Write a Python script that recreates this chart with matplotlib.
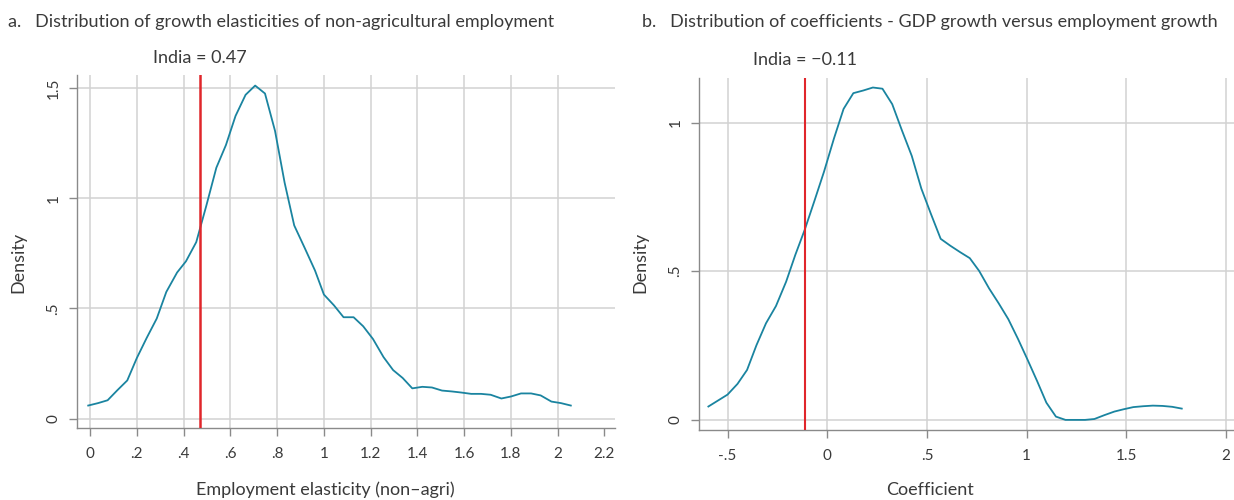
import matplotlib.pyplot as plt

plt.rcParams['font.family'] = ['Lato', 'DejaVu Sans']

# panel a: growth elasticities of non-agricultural employment
elast_x = [-0.008, 0.034, 0.075, 0.117, 0.159, 0.200, 0.242, 0.285, 0.326, 0.372,
           0.410, 0.454, 0.497, 0.540, 0.581, 0.622, 0.665, 0.706, 0.748, 0.791,
           0.832, 0.873, 0.919, 0.962, 1.000, 1.043, 1.084, 1.127, 1.168, 1.210,
           1.255, 1.296, 1.337, 1.378, 1.421, 1.462, 1.505, 1.547, 1.588, 1.630,
           1.672, 1.713, 1.759, 1.800, 1.843, 1.886, 1.927, 1.973, 2.014, 2.056]
elast_y = [0.059, 0.070, 0.083, 0.129, 0.173, 0.275, 0.366, 0.454, 0.575, 0.663,
           0.714, 0.801, 0.966, 1.139, 1.242, 1.374, 1.470, 1.512, 1.476, 1.306,
           1.071, 0.877, 0.772, 0.672, 0.563, 0.514, 0.460, 0.460, 0.419, 0.361,
           0.279, 0.220, 0.184, 0.137, 0.144, 0.141, 0.127, 0.123, 0.118, 0.112,
           0.112, 0.108, 0.091, 0.100, 0.114, 0.114, 0.105, 0.077, 0.070, 0.059]
india_a = 0.47

# panel b: GDP growth vs employment growth coefficients
coef_x = [-0.596, -0.548, -0.500, -0.450, -0.402, -0.355, -0.307, -0.257, -0.206, -0.160,
          -0.112, -0.064, -0.016, 0.034, 0.082, 0.131, 0.181, 0.229, 0.277, 0.326,
          0.374, 0.424, 0.472, 0.520, 0.569, 0.617, 0.667, 0.715, 0.762, 0.812,
          0.860, 0.908, 0.957, 1.005, 1.053, 1.099, 1.147, 1.195, 1.245, 1.293,
          1.340, 1.390, 1.440, 1.488, 1.535, 1.585, 1.633, 1.681, 1.730, 1.778]
coef_y = [0.045, 0.065, 0.085, 0.121, 0.168, 0.251, 0.325, 0.383, 0.465, 0.555,
          0.641, 0.737, 0.835, 0.947, 1.046, 1.099, 1.108, 1.118, 1.114, 1.062,
          0.975, 0.888, 0.778, 0.693, 0.609, 0.586, 0.564, 0.544, 0.501, 0.442,
          0.392, 0.339, 0.272, 0.202, 0.130, 0.058, 0.011, 0.000, 0.000, 0.000,
          0.003, 0.016, 0.028, 0.036, 0.043, 0.046, 0.048, 0.047, 0.044, 0.038]
india_b = -0.11

xticks_a = [0, 0.2, 0.4, 0.6, 0.8, 1, 1.2, 1.4, 1.6, 1.8, 2, 2.2]
xlabels_a = ['0', '.2', '.4', '.6', '.8', '1', '1.2', '1.4', '1.6', '1.8', '2', '2.2']
yticks_a = [0, 0.5, 1, 1.5]
ylabels_a = ['0', '.5', '1', '1.5']
xticks_b = [-0.5, 0, 0.5, 1, 1.5, 2]
xlabels_b = ['-.5', '0', '.5', '1', '1.5', '2']
yticks_b = [0, 0.5, 1]
ylabels_b = ['0', '.5', '1']

TEAL = '#1a84a0'
RED = '#e0262b'
TXT = '#3a3a3a'
GRID = '#d2d2d2'
SPINE = '#8a8a8a'

fig = plt.figure(figsize=(12.34, 5), dpi=100)
ax1 = fig.add_axes([77 / 1234, 1 - 428 / 500, (615 - 77) / 1234, (428 - 75) / 500])
ax2 = fig.add_axes([699 / 1234, 1 - 430 / 500, (1234 - 699) / 1234, (430 - 78) / 500])


def styl(ax, xt, xl, yt, yl, xgrid):
    ax.set_xticks(xt)
    ax.set_xticklabels(xl)
    ax.set_yticks(yt)
    ax.set_yticklabels(yl, rotation=90, va='center')
    for v in xgrid:
        ax.axvline(v, color=GRID, lw=1.1, zorder=0)
    for v in yt:
        ax.axhline(v, color=GRID, lw=1.1, zorder=0)
    for s in ['top', 'right']:
        ax.spines[s].set_visible(False)
    for s in ['left', 'bottom']:
        ax.spines[s].set_color(SPINE)
        ax.spines[s].set_linewidth(1.0)
    ax.tick_params(colors=SPINE, labelcolor=TXT, labelsize=11, length=6, width=1)
    ax.tick_params(axis='x', pad=8)
    ax.tick_params(axis='y', pad=6)


ax1.plot(elast_x, elast_y, color=TEAL, lw=1.3, zorder=3)
ax1.axvline(india_a, color=RED, lw=1.8, zorder=4)
ax1.set_xlim(-0.056, 2.245)
ax1.set_ylim(-0.043, 1.56)
styl(ax1, xticks_a, xlabels_a, yticks_a, ylabels_a, xticks_a[:-1])
ax1.text(india_a, 1.60, 'India = 0.47', ha='center', va='bottom', fontsize=13, color=TXT)

ax2.plot(coef_x, coef_y, color=TEAL, lw=1.3, zorder=3)
ax2.axvline(india_b, color=RED, lw=1.5, zorder=4)
ax2.set_xlim(-0.643, 2.04)
ax2.set_ylim(-0.034, 1.15)
styl(ax2, xticks_b, xlabels_b, yticks_b, ylabels_b, xticks_b)
ax2.text(india_b, 1.185, 'India = \u22120.11', ha='center', va='bottom', fontsize=13, color=TXT)

fig.text(8 / 1234, 1 - 22 / 500, 'a.   Distribution of growth elasticities of non-agricultural employment',
         ha='left', va='center', fontsize=13, color=TXT)
fig.text(642 / 1234, 1 - 22 / 500, 'b.   Distribution of coefficients - GDP growth versus employment growth',
         ha='left', va='center', fontsize=13, color=TXT)

fig.text(325 / 1234, 1 - 490 / 500, 'Employment elasticity (non\u2013agri)', ha='center', va='center',
         fontsize=13, color=TXT)
fig.text(930 / 1234, 1 - 490 / 500, 'Coefficient', ha='center', va='center', fontsize=13, color=TXT)
fig.text(18 / 1234, 1 - 262 / 500, 'Density', rotation=90, ha='center', va='center', fontsize=13, color=TXT)
fig.text(640 / 1234, 1 - 262 / 500, 'Density', rotation=90, ha='center', va='center', fontsize=13, color=TXT)

fig.savefig('out.png', dpi=100)
